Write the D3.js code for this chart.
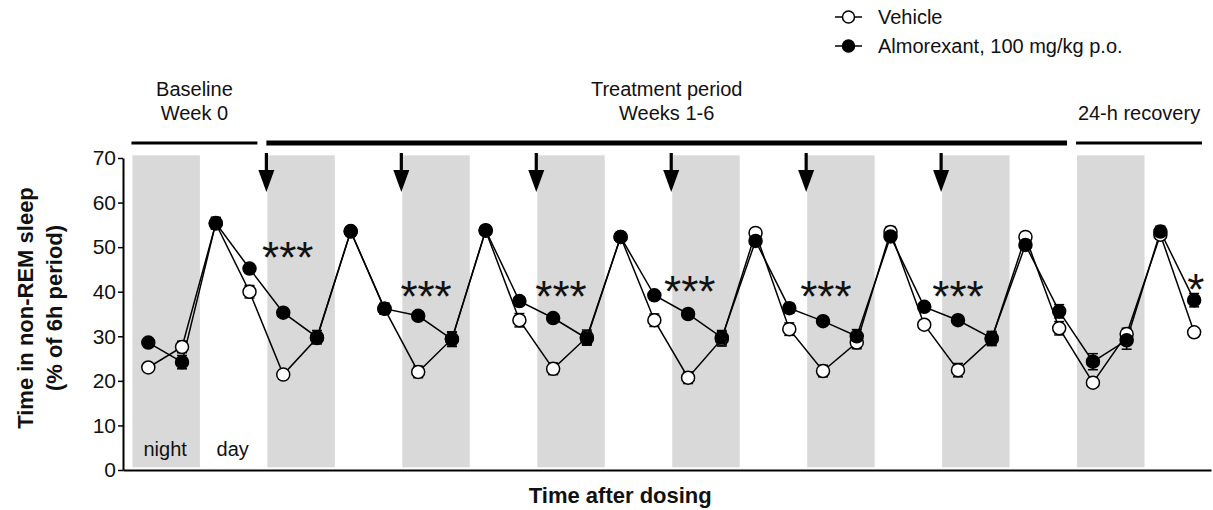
<!DOCTYPE html>
<html>
<head>
<meta charset="utf-8">
<script src="https://cdn.jsdelivr.net/npm/d3@7"></script>
<style>
  html, body { margin: 0; padding: 0; background: #fff; }
  svg { display: block; font-family: "Liberation Sans", Arial, Helvetica, sans-serif; }
</style>
</head>
<body>
<svg id="chart" width="1213" height="510"></svg>
<script>
// Centre hour of each 6-h recording bin (8 days x 4 bins)
const binHours = [3, 9, 15, 21, 27, 33, 39, 45, 51, 57, 63, 69, 75, 81, 87, 93,
                  99, 105, 111, 117, 123, 129, 135, 141, 147, 153, 159, 165, 171, 177, 183, 189];

// Non-REM sleep, % of each 6-h period (mean and SEM)
const vehicle =       [23.0, 27.6, 55.3, 40.0, 21.4, 29.6, 53.5, 36.2, 22.0, 29.4, 53.7, 33.6, 22.7, 29.8, 52.3, 33.6,
                       20.7, 29.4, 53.2, 31.6, 22.2, 28.6, 53.4, 32.6, 22.4, 29.4, 52.3, 31.8, 19.6, 30.5, 52.8, 30.9];
const vehicleSem =    [0.8, 1.3, 1.2, 1.4, 0.8, 1.2, 0.8, 1.2, 1.3, 1.6, 0.8, 1.5, 1.3, 1.6, 0.8, 1.4,
                       1.3, 1.6, 0.8, 1.4, 1.3, 1.4, 1.2, 0.8, 1.5, 1.5, 0.8, 1.5, 0.8, 1.3, 1.0, 0.8];
const almorexant =    [28.6, 24.2, 55.4, 45.2, 35.3, 29.8, 53.6, 36.2, 34.6, 29.3, 53.8, 37.9, 34.1, 29.5, 52.3, 39.2,
                       35.0, 29.7, 51.4, 36.3, 33.4, 30.0, 52.4, 36.6, 33.6, 29.6, 50.5, 35.6, 24.3, 29.1, 53.5, 38.1];
const almorexantSem = [0.8, 1.5, 1.3, 0.8, 0.8, 1.5, 0.8, 1.2, 0.8, 1.6, 0.8, 0.8, 0.8, 1.5, 0.8, 0.8,
                       0.8, 1.6, 0.8, 1.1, 0.8, 1.5, 0.8, 0.8, 0.8, 1.5, 0.8, 1.5, 1.8, 2.0, 1.2, 1.5];

// Dark phases (start hour, 12 h each) and dosing times
const nightStarts = [0, 24, 48, 72, 96, 120, 144, 168];
const nightLength = 12;
const doseHours = [24, 48, 72, 96, 120, 144];

// Study periods shown above the plot
const periodLabels = [["Baseline", "Week 0"], ["Treatment period", "Weeks 1-6"], ["24-h recovery"]];
const periodStart = [0, 24, 168];
const periodEnd = [24, 168, 192];
const periodWeight = [3, 5, 3];

// Significance markers (hour, level on the y scale, text)
const sigHours = [27.8, 52.4, 76.4, 99.3, 123.5, 147, 189.3];
const sigLevels = [49.8, 41.1, 41.1, 42.2, 41.1, 41.1, 42.6];
const sigText = ["***", "***", "***", "***", "***", "***", "*"];

const yTicks = [0, 10, 20, 30, 40, 50, 60, 70];
const seriesNames = ["Vehicle", "Almorexant, 100 mg/kg p.o."];

const svg = d3.select("#chart");
const x = d3.scaleLinear().domain([-1.5, 192]).range([123, 1211]);
const y = d3.scaleLinear().domain([0, 70]).range([470, 158]);

// Night shading
svg.append("g").selectAll("rect").data(nightStarts).join("rect")
  .attr("x", d => x(d) + 1)
  .attr("width", d => x(d + nightLength) - x(d))
  .attr("y", y(70.6))
  .attr("height", y(0.6) - y(70.6))
  .attr("fill", "#d9d9d9");

// Axes
const yAxis = svg.append("g").attr("transform", "translate(123,0)")
  .call(d3.axisLeft(y).tickValues(yTicks).tickSize(5).tickSizeOuter(0).tickPadding(2));
yAxis.select(".domain").attr("stroke-width", 2);
yAxis.selectAll(".tick line").attr("stroke-width", 1.5);
yAxis.selectAll(".tick text").attr("font-size", 21).attr("fill", "#111")
  .attr("font-family", "'Liberation Sans', Arial, sans-serif");

const xAxis = svg.append("g").attr("transform", "translate(0,470)")
  .call(d3.axisBottom(x).tickValues([]).tickSizeOuter(0));
xAxis.select(".domain").attr("stroke-width", 2);

// Axis titles
const yTitle = svg.append("text")
  .attr("transform", "translate(33,308) rotate(-90)")
  .attr("text-anchor", "middle").attr("font-size", 22).attr("font-weight", "bold").attr("fill", "#111");
yTitle.append("tspan").attr("x", 0).attr("dy", 0).text("Time in non-REM sleep");
yTitle.append("tspan").attr("x", 0).attr("dy", 29).text("(% of 6h period)");

svg.append("text").attr("x", x(72) + 84).attr("y", 503)
  .attr("text-anchor", "middle").attr("font-size", 22).attr("font-weight", "bold").attr("fill", "#111")
  .text("Time after dosing");

// Phase labels
svg.append("text").attr("x", x(6)).attr("y", 456).attr("text-anchor", "middle")
  .attr("font-size", 20).attr("fill", "#111").text("night");
svg.append("text").attr("x", x(18)).attr("y", 456).attr("text-anchor", "middle")
  .attr("font-size", 20).attr("fill", "#111").text("day");

// Period bars and labels
const barY = 143;
periodLabels.forEach((lines, i) => {
  const x0 = x(periodStart[i]), x1 = x(periodEnd[i]) - 9;
  svg.append("line").attr("x1", x0).attr("x2", x1).attr("y1", barY).attr("y2", barY)
    .attr("stroke", "#000").attr("stroke-width", periodWeight[i]);
  const cx = (x0 + x1) / 2;
  const t = svg.append("text").attr("text-anchor", "middle").attr("font-size", 20).attr("fill", "#111");
  const firstY = lines.length === 2 ? 96 : 120;
  lines.forEach((s, j) => {
    t.append("tspan").attr("x", cx).attr("y", firstY + j * 24).text(s);
  });
});

// Dosing arrows
const arrows = svg.append("g");
doseHours.forEach(h => {
  const ax = x(h);
  arrows.append("line").attr("x1", ax).attr("x2", ax).attr("y1", 153).attr("y2", 172)
    .attr("stroke", "#000").attr("stroke-width", 3.2);
  arrows.append("path")
    .attr("d", `M${ax - 8},170 L${ax + 8},170 L${ax},192 Z`).attr("fill", "#000");
});

// Series
const series = [
  { name: seriesNames[0], values: vehicle, sem: vehicleSem, fill: "#fff" },
  { name: seriesNames[1], values: almorexant, sem: almorexantSem, fill: "#000" }
];
const line = d3.line().x((d, i) => x(binHours[i])).y(d => y(d));

series.forEach(s => {
  svg.append("path").datum(s.values).attr("d", line)
    .attr("fill", "none").attr("stroke", "#000").attr("stroke-width", 1.5);
});

series.forEach(s => {
  const g = svg.append("g").attr("stroke", "#000").attr("stroke-width", 1.5);
  s.values.forEach((v, i) => {
    const cx = x(binHours[i]);
    const lo = y(v - s.sem[i]), hi = y(v + s.sem[i]);
    g.append("line").attr("x1", cx).attr("x2", cx).attr("y1", lo).attr("y2", hi);
    g.append("line").attr("x1", cx - 5).attr("x2", cx + 5).attr("y1", lo).attr("y2", lo);
    g.append("line").attr("x1", cx - 5).attr("x2", cx + 5).attr("y1", hi).attr("y2", hi);
  });
});

series.forEach(s => {
  svg.append("g").selectAll("circle").data(s.values).join("circle")
    .attr("cx", (d, i) => x(binHours[i])).attr("cy", d => y(d)).attr("r", 6.5)
    .attr("fill", s.fill).attr("stroke", "#000").attr("stroke-width", 1.5);
});

// Significance stars
svg.append("g").selectAll("text").data(sigText).join("text")
  .attr("x", (d, i) => x(sigHours[i]))
  .attr("y", (d, i) => y(sigLevels[i]) + 25)
  .attr("text-anchor", "middle").attr("font-size", 44).attr("fill", "#111")
  .text(d => d);

// Legend
const legend = svg.append("g");
series.forEach((s, i) => {
  const ly = 17 + i * 29;
  legend.append("line").attr("x1", 835).attr("x2", 862).attr("y1", ly).attr("y2", ly)
    .attr("stroke", "#000").attr("stroke-width", 1.5);
  legend.append("circle").attr("cx", 848.5).attr("cy", ly).attr("r", 6)
    .attr("fill", s.fill).attr("stroke", "#000").attr("stroke-width", 1.5);
  legend.append("text").attr("x", 878).attr("y", ly + 7).attr("font-size", 20).attr("fill", "#111")
    .text(s.name);
});
</script>
</body>
</html>
